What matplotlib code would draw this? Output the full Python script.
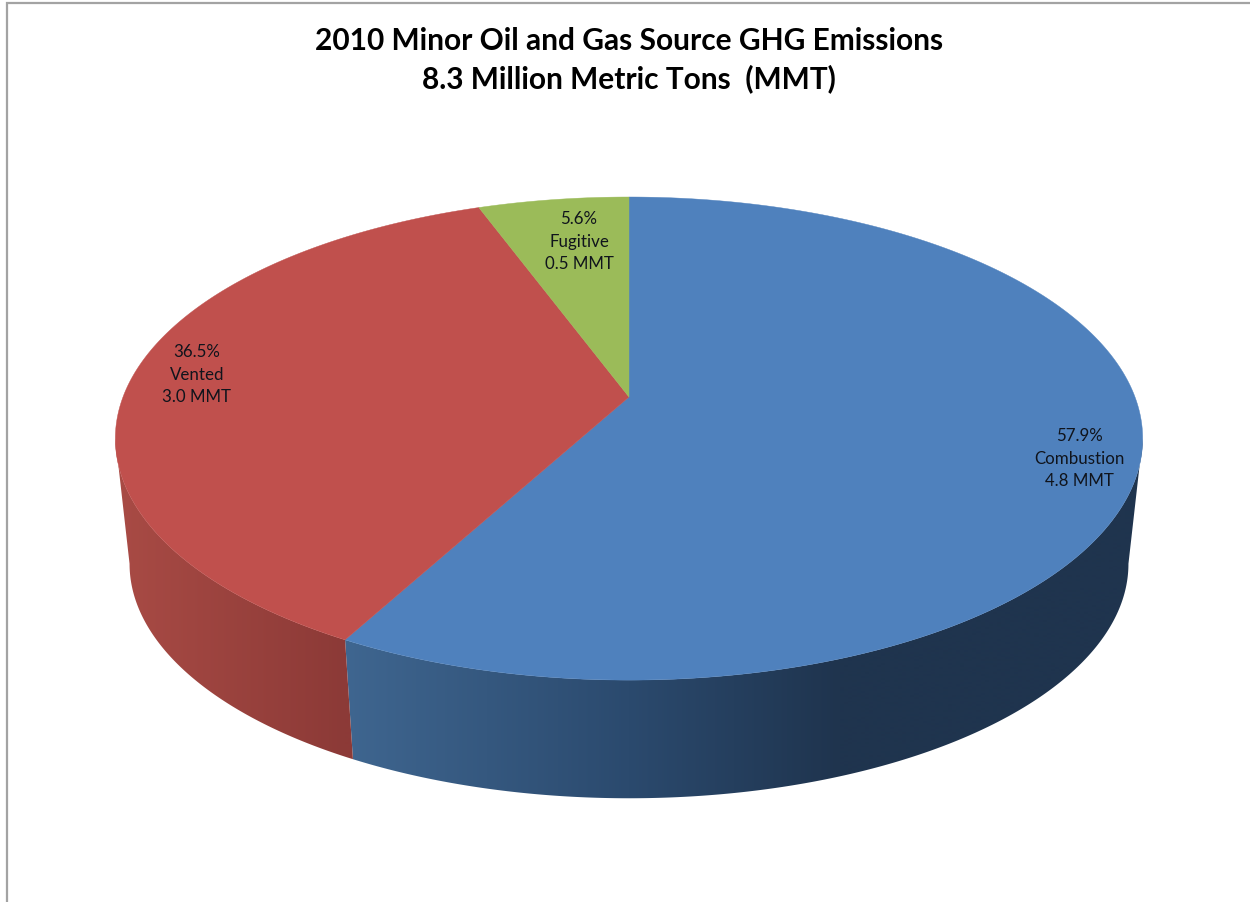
import numpy as np
import matplotlib
matplotlib.use('Agg')
import matplotlib.pyplot as plt
from matplotlib.patches import Polygon
from matplotlib.colors import to_rgb

plt.rcParams['font.family'] = ['Lato', 'DejaVu Sans']

# data
categories = ['Combustion', 'Vented', 'Fugitive']
shares = [57.9, 36.5, 5.6]
mmt = [4.8, 3.0, 0.5]
title = '2010 Minor Oil and Gas Source GHG Emissions\n8.3 Million Metric Tons  (MMT)'

top_colors = ['#4f81bd', '#c0504d', '#9bbb59']
# side shading, (pixel x, colour) stops
side_stops = [
    [(345, '#3f6690'), (629, '#2b4a6e'), (840, '#1f344e'), (1143, '#1f344e')],
    [(115, '#a94b45'), (345, '#8c3a37')],
    [(480, '#7c9647'), (629, '#7c9647')],
]
label_pos = [(1079, 459), (197, 375), (579, 242)]

K = 0.172


# perspective disc: theta runs clockwise from 12 o'clock
def disc(theta, y0, a, b):
    u, v = np.sin(theta), np.cos(theta)
    w = 1 + K * v
    return 629 + a * u / w, y0 - b * v / w


def top_disc(theta):
    return disc(theta, 398, 506, 234.4)


def bottom_disc(theta):
    return disc(theta, 524.5, 492, 227.5)


def shade(x, stops):
    xs = [s[0] for s in stops]
    rgb = np.array([to_rgb(s[1]) for s in stops])
    return np.column_stack([np.interp(x, xs, rgb[:, i]) for i in range(3)])


fig = plt.figure(figsize=(12.5, 9.03), dpi=100)
ax = fig.add_axes([0, 0, 1, 1])

edges = np.concatenate([[0], np.cumsum(shares)]) / np.sum(shares) * 2 * np.pi

# only the front of the rim shows, between the two widest points of the disc
front_a = np.arccos(-K)
front_b = 2 * np.pi - front_a

columns = np.arange(100, 1160)
for i in range(len(shares)):
    t0 = max(edges[i], front_a)
    t1 = min(edges[i + 1], front_b)
    if t1 <= t0:
        continue
    th = np.linspace(t0, t1, 500)
    tx, ty = top_disc(th)
    bx, by = bottom_disc(th)
    outline = Polygon(np.column_stack([np.r_[tx, bx[::-1]], np.r_[ty, by[::-1]]]),
                      closed=True, transform=ax.transData, fc='none', ec='none')
    ax.add_patch(outline)
    im = ax.imshow(shade(columns, side_stops[i])[np.newaxis, :, :],
                   extent=(columns[0], columns[-1], 830, 350), aspect='auto',
                   interpolation='bilinear', zorder=2)
    im.set_clip_path(outline)

for i in range(len(shares)):
    th = np.linspace(edges[i], edges[i + 1], 600)
    tx, ty = top_disc(th)
    ax.fill(np.r_[629, tx], np.r_[398, ty], color=top_colors[i], lw=0.3, zorder=3)

for i in range(len(shares)):
    s = '%.1f%%\n%s\n%.1f MMT' % (shares[i], categories[i], mmt[i])
    ax.text(label_pos[i][0], label_pos[i][1], s, ha='center', va='center', fontsize=12.2,
            linespacing=1.5, color='#10141c', zorder=4)

ax.text(629, 60, title, ha='center', va='center', fontsize=21.5, fontweight='bold',
        linespacing=1.36, color='black', zorder=4)

# chart frame, cut off by the screenshot at right and bottom
ax.plot([6.5, 6.5, 1250], [903, 3.5, 3.5], color='#a3a3a3', lw=1.6, solid_joinstyle='miter')

ax.set_xlim(0, 1250)
ax.set_ylim(903, 0)
ax.axis('off')

fig.savefig('out.png', dpi=100)
